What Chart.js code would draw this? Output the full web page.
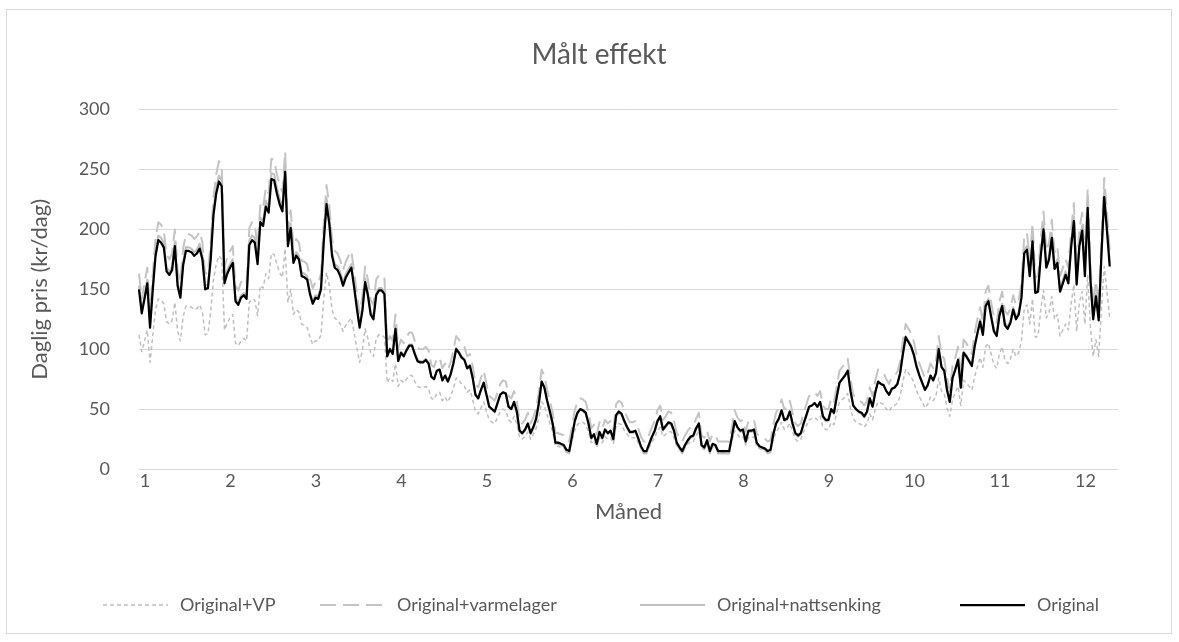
<!DOCTYPE html>
<html>
<head>
<meta charset="utf-8">
<script src="https://cdn.jsdelivr.net/npm/chart.js@4.4.1/dist/chart.umd.min.js"></script>
<style>
  html, body { margin: 0; padding: 0; background: #fff; }
  #wrap { width: 1179px; height: 642px; }
</style>
</head>
<body>
<div id="wrap"><canvas id="effektChart" width="1179" height="642"></canvas></div>
<script>
// one value per day from Jan 1 (353 days in the series)
const dagerPerMaaned = [31, 28, 31, 30, 31, 30, 31, 31, 30, 31, 30, 31];
const antallKategorier = 356; // category slots on the axis (a few empty at the end)
const tickInterval = 31;      // Excel shows every 31st category label

const original = [
  150,130,142,155,118,150,178,191,189,185,165,162,166,186,153,143,170,182,182,181,
  178,180,184,175,150,151,175,212,230,240,236,155,163,168,172,140,137,143,145,142,
  187,191,189,171,206,203,219,214,242,241,230,221,215,248,186,201,172,178,175,161,
  160,158,146,138,143,142,150,190,221,205,178,168,166,161,153,160,164,168,152,134,
  118,132,156,145,129,125,145,149,149,146,94,100,96,117,90,97,94,99,103,103,
  96,90,89,89,91,88,77,75,82,83,74,78,73,79,88,100,97,93,91,84,
  86,76,62,59,66,72,62,52,50,48,55,62,64,63,52,50,56,48,32,30,
  33,38,30,35,42,55,73,68,57,48,38,22,22,21,20,16,15,27,40,47,
  50,49,47,38,26,29,21,31,26,33,30,32,25,45,48,46,40,35,31,31,
  32,26,19,15,15,21,27,32,40,44,33,36,39,38,32,22,18,15,20,24,
  27,28,34,38,20,18,24,15,21,20,15,15,15,15,15,27,40,35,32,33,
  23,32,32,33,22,19,18,17,15,16,29,38,42,49,41,42,48,38,30,28,
  30,38,45,52,53,55,52,56,44,41,41,50,47,60,72,75,78,82,65,53,
  50,48,47,44,48,59,52,64,73,71,70,65,62,67,68,71,80,96,110,106,
  102,95,85,78,72,66,70,78,74,80,100,85,82,66,56,76,83,91,68,97,
  94,90,86,102,113,123,112,136,140,127,115,111,128,136,120,117,122,133,125,129,
  143,180,183,161,190,147,148,178,200,168,175,193,167,172,148,155,162,155,185,207,
  154,186,199,161,218,158,125,144,124,179,227,199,169
];

const nattsenking = [
  153,132,144,158,120,153,181,195,193,189,168,165,169,190,156,145,173,185,185,184,
  181,183,188,178,153,154,178,216,235,245,241,158,166,171,175,142,139,145,147,144,
  191,195,193,174,210,207,224,218,247,246,235,226,219,253,190,205,175,181,178,164,
  163,161,148,140,145,144,153,194,226,209,181,171,169,164,156,163,167,171,155,136,
  120,134,159,147,131,127,147,151,151,148,95,101,97,119,91,98,95,100,104,104,
  97,91,90,90,92,89,77,75,82,83,74,78,73,79,89,101,98,94,92,85,
  87,76,62,59,66,72,62,52,50,47,55,62,64,63,52,50,56,47,31,29,
  32,37,29,34,41,55,73,68,57,47,37,21,21,20,19,14,13,26,39,46,
  50,48,46,37,25,28,20,30,25,32,29,31,24,44,47,45,39,34,30,30,
  31,25,18,13,13,20,26,31,39,43,32,35,38,37,31,21,17,13,19,23,
  26,27,33,37,19,17,23,13,20,19,13,13,13,13,13,26,39,34,31,32,
  22,31,31,32,21,18,17,16,13,14,28,37,41,48,40,41,47,37,29,27,
  29,37,44,52,53,55,52,56,43,40,40,50,46,60,72,75,78,82,65,53,
  50,47,46,43,47,59,52,64,73,71,70,65,62,67,68,71,80,97,111,107,
  103,96,86,78,72,66,70,78,74,80,101,86,82,66,56,76,83,92,68,98,
  95,91,87,103,114,125,113,138,142,129,116,112,130,138,122,119,124,135,127,131,
  145,183,186,164,194,149,150,181,204,171,178,197,170,175,150,158,165,158,189,211,
  157,190,203,164,223,161,127,146,126,182,232,203,172
];

const varmelager = [
  163,142,155,168,130,163,192,206,204,199,179,175,180,200,166,156,184,196,196,195,
  192,194,198,189,163,164,189,227,246,257,252,168,177,182,186,153,149,156,158,155,
  201,206,204,185,221,218,235,230,259,258,246,237,231,265,200,216,186,192,189,174,
  173,171,159,151,156,155,163,205,237,220,192,182,180,174,166,173,178,182,165,146,
  130,144,169,158,141,137,158,162,162,159,105,111,107,129,101,108,105,110,114,114,
  107,101,100,100,102,99,87,85,92,93,84,88,83,89,99,111,108,104,102,94,
  96,86,71,68,76,82,71,61,59,57,64,71,74,73,61,59,65,57,40,38,
  41,47,38,43,51,64,83,78,66,57,47,30,30,29,28,24,23,35,49,56,
  59,58,56,47,34,37,29,39,34,41,38,40,33,54,57,55,49,43,39,39,
  40,34,27,23,23,29,35,40,49,53,41,44,48,47,40,30,26,23,28,32,
  35,36,42,47,28,26,32,23,29,28,23,23,23,23,23,35,49,43,40,41,
  31,40,40,41,30,27,26,25,23,24,37,47,51,58,50,51,57,47,38,36,
  38,47,54,61,62,64,61,65,53,50,50,59,56,69,82,85,88,92,75,62,
  59,57,56,53,57,68,61,74,83,81,80,75,71,77,78,81,90,107,121,117,
  113,106,95,88,82,76,80,88,84,90,111,95,92,76,65,86,93,102,78,108,
  105,101,96,113,125,135,123,148,153,139,127,122,140,148,132,129,134,145,137,141,
  156,194,197,174,205,160,161,192,215,182,189,208,181,186,161,168,175,168,199,222,
  167,200,214,174,234,171,137,157,136,193,243,214,183
];

const medVP = [
  112,98,107,116,89,112,133,142,141,138,123,121,124,139,115,107,127,136,136,135,
  133,134,137,131,112,113,131,158,171,178,175,116,122,126,129,105,103,107,109,107,
  139,142,141,128,153,151,163,159,180,179,171,164,160,184,139,150,129,133,131,121,
  120,118,110,104,107,107,112,142,164,153,133,126,124,121,115,120,123,126,114,101,
  89,99,117,109,97,94,109,112,112,110,72,76,73,88,69,74,72,75,78,78,
  73,69,68,68,69,67,59,58,63,64,57,60,56,61,67,76,74,71,69,64,
  66,58,48,46,51,56,48,41,39,38,43,48,50,49,41,39,44,38,26,25,
  27,31,25,29,34,43,56,53,45,38,31,19,19,18,18,15,14,23,32,37,
  39,39,37,31,22,24,18,26,22,27,25,26,21,36,38,37,32,29,26,26,
  26,22,17,14,14,18,23,26,32,35,27,29,31,31,26,19,16,14,18,21,
  23,23,28,31,18,16,21,14,18,18,14,14,14,14,14,23,32,29,26,27,
  20,26,26,27,19,17,16,15,14,15,24,31,34,39,33,34,38,31,25,23,
  25,31,36,41,42,43,41,44,35,33,33,39,37,47,56,58,60,63,50,42,
  39,38,37,35,38,46,41,50,56,55,54,50,48,52,53,55,61,73,83,80,
  77,72,65,60,56,51,54,60,57,61,76,65,63,51,44,58,64,69,53,74,
  72,69,66,77,85,93,85,102,105,96,87,84,96,102,91,88,92,100,94,97,
  107,134,137,121,142,110,111,133,149,126,131,144,125,129,111,116,121,116,138,154,
  115,139,148,121,162,118,94,108,94,134,169,148,126
];

// category label for each day = month number
const maaned = [];
dagerPerMaaned.forEach((n, m) => {
  for (let d = 0; d < n; d++) maaned.push(String(m + 1));
});
const kategorier = maaned.slice(0, antallKategorier);

const textColor = "#595959";
const fontFamily = "Lato, 'Open Sans', sans-serif";
Chart.defaults.font.family = fontFamily;
Chart.defaults.color = textColor;

// white background + thin grey chart border like Excel
const framePlugin = {
  id: "frame",
  beforeDraw(chart) {
    const c = chart.ctx;
    c.save();
    c.fillStyle = "#ffffff";
    c.fillRect(0, 0, chart.width, chart.height);
    c.strokeStyle = "#d9d9d9";
    c.lineWidth = 1;
    c.strokeRect(6.5, 9.5, 1165, 624);
    c.restore();
  }
};

// Excel-style legend row: wide line samples with the dataset's dash pattern
const legendOrder = [3, 2, 1, 0];        // dataset indices, left to right
const legendStart = [103, 320, 640, 960]; // where each sample line starts
const excelLegend = {
  id: "excelLegend",
  afterDraw(chart) {
    const c = chart.ctx;
    const y = 605;
    c.save();
    c.font = "18px " + fontFamily;
    c.textBaseline = "middle";
    c.textAlign = "left";
    legendOrder.forEach((di, k) => {
      const ds = chart.data.datasets[di];
      const x = legendStart[k];
      c.strokeStyle = ds.borderColor;
      c.lineWidth = ds.borderWidth;
      c.setLineDash(ds.borderDash || []);
      c.beginPath();
      c.moveTo(x, y);
      c.lineTo(x + 65, y);
      c.stroke();
      c.fillStyle = textColor;
      c.fillText(ds.label, x + 77, y);
    });
    c.restore();
  }
};

const ctx = document.getElementById("effektChart").getContext("2d");
new Chart(ctx, {
  type: "line",
  data: {
    labels: kategorier,
    datasets: [
      { label: "Original", data: original, borderColor: "#000000", borderWidth: 2.25 },
      { label: "Original+nattsenking", data: nattsenking, borderColor: "#bfbfbf", borderWidth: 2 },
      { label: "Original+varmelager", data: varmelager, borderColor: "#c4c4c4", borderWidth: 2, borderDash: [16, 7] },
      { label: "Original+VP", data: medVP, borderColor: "#bfbfbf", borderWidth: 1.5, borderDash: [4, 3] }
    ]
  },
  options: {
    responsive: false,
    animation: false,
    devicePixelRatio: 1,
    layout: { padding: { left: 80, right: 61, top: 0, bottom: 0 } },
    elements: {
      point: { radius: 0 },
      line: { tension: 0, fill: false, borderJoinStyle: "round" }
    },
    plugins: {
      title: {
        display: true,
        text: "Målt effekt",
        color: textColor,
        font: { size: 28, weight: "normal", lineHeight: 1.2 },
        padding: { top: 38, bottom: 38 }
      },
      legend: { display: false },
      tooltip: { enabled: false }
    },
    scales: {
      x: {
        grid: { display: false, drawTicks: false },
        border: { display: false },
        ticks: {
          autoSkip: false,
          maxRotation: 0,
          padding: 1,
          labelOffset: 6,
          color: textColor,
          font: { size: 18 },
          callback: function (value, index) {
            return index % tickInterval === 0 ? this.getLabelForValue(value) : null;
          }
        },
        title: {
          display: true,
          text: "Måned",
          color: textColor,
          font: { size: 22 },
          padding: { top: 0, bottom: 117 }
        },
        afterFit: scale => { scale.height = 173; }
      },
      y: {
        min: 0,
        max: 300,
        ticks: { stepSize: 50, padding: 29, color: textColor, font: { size: 18 } },
        grid: { color: "#d9d9d9", lineWidth: 1, drawTicks: false },
        border: { display: false },
        title: {
          display: true,
          text: "Daglig pris (kr/dag)",
          color: textColor,
          font: { size: 22 },
          padding: { top: -53, bottom: 0 }
        },
        afterFit: scale => { scale.width = 59; }
      }
    }
  },
  plugins: [framePlugin, excelLegend]
});
</script>
</body>
</html>
